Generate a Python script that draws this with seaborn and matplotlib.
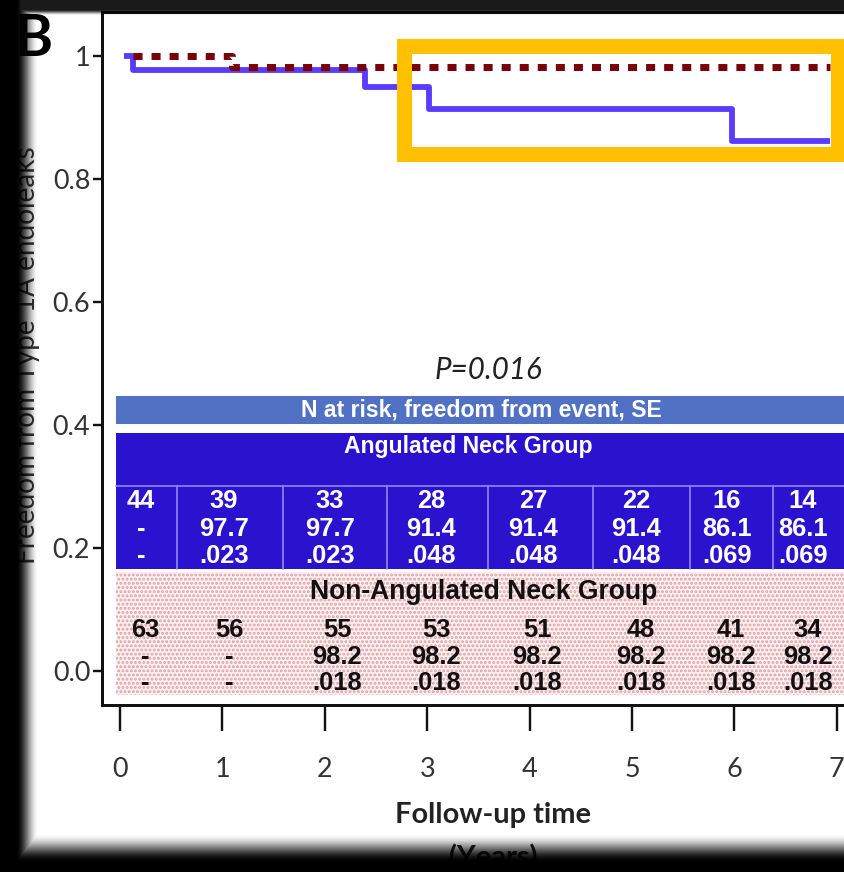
import numpy as np
import matplotlib
matplotlib.use("Agg")
import matplotlib.pyplot as plt
from matplotlib.patches import Rectangle
import seaborn as sns

# --- values ---
years = [0, 1, 2, 3, 4, 5, 6, 7]
y_ticks = [0.0, 0.2, 0.4, 0.6, 0.8, 1.0]
y_tick_labels = ["0.0", "0.2", "0.4", "0.6", "0.8", "1"]

# Kaplan-Meier steps (years, freedom from type 1A endoleak)
ang_time = [0.04, 0.13, 2.39, 3.02, 5.98, 6.93]
ang_surv = [1.0, 0.977, 0.95, 0.914, 0.861, 0.861]
non_time = [0.13, 1.09, 6.93]
non_surv = [1.0, 0.982, 0.982]

# numbers at risk / freedom from event / SE
ang_n = ["44", "39", "33", "28", "27", "22", "16", "14"]
ang_free = ["-", "97.7", "97.7", "91.4", "91.4", "91.4", "86.1", "86.1"]
ang_se = ["-", ".023", ".023", ".048", ".048", ".048", ".069", ".069"]
non_n = ["63", "56", "55", "53", "51", "48", "41", "34"]
non_free = ["-", "-", "98.2", "98.2", "98.2", "98.2", "98.2", "98.2"]
non_se = ["-", "-", ".018", ".018", ".018", ".018", ".018", ".018"]
p_text = "P=0.016"

# table layout (x positions of the columns, in years)
ang_cols = [0.205, 1.016, 2.051, 3.037, 4.033, 5.039, 5.928, 6.670]
non_cols = [0.244, 1.064, 2.119, 3.086, 4.072, 5.088, 5.967, 6.719]
ang_seps = [0.557, 1.592, 2.607, 3.594, 4.619, 5.566, 6.377]

sns.set_theme(style="white")
plt.rcParams["font.family"] = ["Lato", "DejaVu Sans"]
plt.rcParams["hatch.color"] = "#e0a0a6"
plt.rcParams["hatch.linewidth"] = 1.4

W, H = 845, 872
fig = plt.figure(figsize=(W / 100, H / 100), dpi=100)
fig.patch.set_facecolor("white")
ax = fig.add_axes([102 / W, 1 - 705 / H, (W - 102) / W, 693 / H])

px = 0.72  # points per pixel
tick_col = "#333333"
table_font = "Liberation Sans"

# curves
sns.lineplot(x=ang_time, y=ang_surv, drawstyle="steps-post", color="#5a3cff",
             lw=4.2, ax=ax, zorder=3, solid_capstyle="butt")
sns.lineplot(x=non_time, y=non_surv, drawstyle="steps-post", color="#7a0008",
             lw=5, ax=ax, zorder=4, linestyle=(0, (1.3, 1.3)))

ax.set_xlim((102 - 120) / 102.4, (845 - 120) / 102.4)
ax.set_ylim((671 - 705) / 615, (671 - 12) / 615)

# highlight box
ax.add_patch(Rectangle((2.778, 0.8407), 7.007 - 2.778, 1.0163 - 0.8407,
                       fill=False, ec="#ffc000", lw=15 * px, zorder=5, clip_on=False))

# p value
ax.text(3.594, 0.489, p_text, ha="center", va="center", style="italic",
        fontsize=29.5 * px, color="#222222")

# header bar
x0, x1 = (116 - 120) / 102.4, 7.2
ax.add_patch(Rectangle((x0, 0.402), x1 - x0, 0.447 - 0.402, fc="#5172c4", ec="none", zorder=2))
ax.text(3.525, 0.4245, "N at risk, freedom from event, SE", ha="center", va="center",
        color="white", fontsize=23 * px, fontweight="bold", family=table_font, zorder=6)

# angulated block
ax.add_patch(Rectangle((x0, 0.166), x1 - x0, 0.387 - 0.166, fc="#2a12cf", ec="none", zorder=2))
ax.plot([x0, x1], [0.301, 0.301], color="#8f86ff", lw=1.2, zorder=3)
for s in ang_seps:
    ax.plot([s, s], [0.166, 0.301], color="#8f86ff", lw=1.2, zorder=3)
ax.text(3.398, 0.365, "Angulated Neck Group", ha="center", va="center", color="white",
        fontsize=23 * px, fontweight="bold", family=table_font, zorder=6)
for cx, a, b, c in zip(ang_cols, ang_n, ang_free, ang_se):
    for val, ry in zip((a, b, c), (0.276, 0.231, 0.187)):
        ax.text(cx, ry, val, ha="center", va="center", color="white",
                fontsize=25.5 * px, fontweight="bold", family=table_font, zorder=6)

# non-angulated block
ax.add_patch(Rectangle((x0, -0.039), x1 - x0, 0.161 + 0.039, fc="#fcf0f0",
                       ec="#e0a0a6", lw=0, hatch="....", zorder=2))
ax.text(3.555, 0.128, "Non-Angulated Neck Group", ha="center", va="center", color="#111111",
        fontsize=26.5 * px, fontweight="bold", family=table_font, zorder=6)
for cx, a, b, c in zip(non_cols, non_n, non_free, non_se):
    for val, ry in zip((a, b, c), (0.0667, 0.0228, -0.0195)):
        ax.text(cx, ry, val, ha="center", va="center", color="#111111",
                fontsize=25.5 * px, fontweight="bold", family=table_font, zorder=6)

# axes styling
ax.set_xticks(years)
ax.set_xticklabels([str(y) for y in years])
ax.set_yticks(y_ticks)
ax.set_yticklabels(y_tick_labels)
ax.tick_params(axis="x", direction="out", length=26 * px, width=2.4 * px, color="#111111",
               pad=26 * px, labelsize=27 * px, labelcolor=tick_col, bottom=True)
ax.tick_params(axis="y", direction="out", length=9 * px, width=2.4 * px, color="#111111",
               pad=2, labelsize=27 * px, labelcolor=tick_col, left=True)
for side in ("left", "top", "bottom"):
    ax.spines[side].set_color("#111111")
    ax.spines[side].set_linewidth(3 * px)
ax.spines["right"].set_visible(False)
ax.set_xlabel("")
ax.set_ylabel("")

fig.text(493 / W, 1 - 815 / H, "Follow-up time", ha="center", va="center",
         fontsize=29 * px, fontweight="bold", color="#222222")
fig.text(493 / W, 1 - 858 / H, "(Years)", ha="center", va="center",
         fontsize=29 * px, fontweight="bold", color="#222222")
fig.text(27 / W, 1 - 355 / H, "Freedom from Type 1A endoleaks", ha="center", va="center",
         rotation=90, fontsize=28 * px, color="#333333")
fig.text(33 / W, 1 - 39 / H, "B", ha="center", va="center", fontsize=58 * px,
         fontweight="bold", color="black")

# dark vignette round the screenshot
yy, xx = np.mgrid[0:H, 0:W]


def ramp(d, d0, d1):
    t = np.clip((d1 - d) / (d1 - d0), 0, 1)
    return t * t * (3 - 2 * t)


alpha = np.maximum.reduce([ramp(xx, 16, 38), 0.9 * ramp(yy, 9, 15), ramp(H - 1 - yy, 10, 38)])
overlay = np.zeros((H, W, 4))
overlay[..., 3] = alpha
fig.figimage(overlay, xo=0, yo=0, origin="upper", zorder=20)

fig.savefig("out.png", dpi=100)
